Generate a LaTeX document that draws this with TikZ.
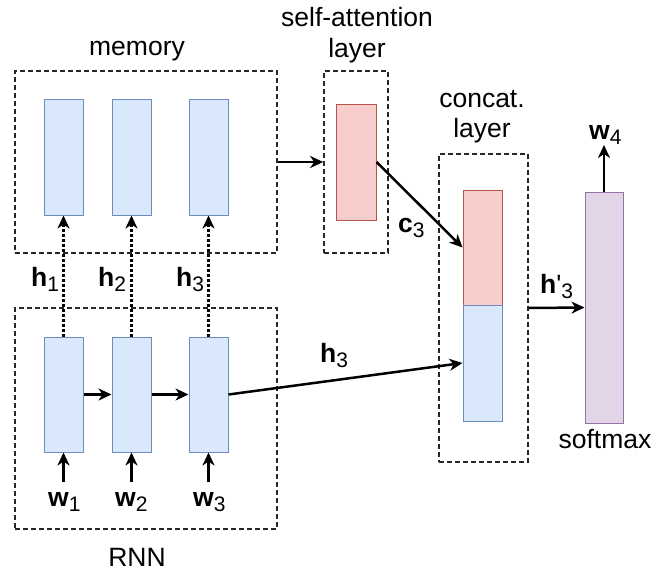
\documentclass[tikz,border=0pt]{standalone}
\usepackage{fontspec}
\setmainfont{Liberation Sans}
\usetikzlibrary{arrows.meta}
\newcommand{\lbl}[2]{\textbf{#1}\raisebox{-5pt}{\fontsize{21}{21}\selectfont #2}}
\tikzset{
  dbox/.style={draw=black!85, line width=1.7pt, dash pattern=on 5pt off 3pt, fill=none, inner sep=0pt},
  bcell/.style={line width=1pt, draw={rgb,255:red,108;green,142;blue,191}, fill={rgb,255:red,218;green,232;blue,252}, inner sep=0pt, minimum width=39pt},
  pcell/.style={line width=1pt, draw={rgb,255:red,184;green,84;blue,80}, fill={rgb,255:red,248;green,206;blue,204}, inner sep=0pt, minimum width=39pt},
  vcell/.style={line width=1pt, draw={rgb,255:red,150;green,115;blue,166}, fill={rgb,255:red,225;green,213;blue,231}, inner sep=0pt, minimum width=38pt},
  arr/.style={line width=2.5pt, -{Stealth[length=13pt,width=12pt,inset=4pt]}},
  darr/.style={line width=2.5pt, dash pattern=on 2.5pt off 2.5pt, -{Stealth[length=13pt,width=12pt,inset=4pt]}},
  txt/.style={font=\fontsize{26.5}{31}\selectfont, inner sep=0pt, anchor=base},
  lab/.style={font=\fontsize{26.5}{31}\selectfont, inner sep=0pt, anchor=base west}
}
\begin{document}
\begin{tikzpicture}[x=1pt,y=-1pt]
\useasboundingbox (0,0) rectangle (664,571);
% dashed boxes
\node[dbox, minimum width=262pt, minimum height=182pt] (membox) at (146,162) {};
\node[dbox, minimum width=262pt, minimum height=221pt] (rnnbox) at (146,418.5) {};
\node[dbox, minimum width=64pt, minimum height=182pt] (sabox) at (356,162) {};
\node[dbox, minimum width=89pt, minimum height=308pt] (catbox) at (483.5,308) {};
% memory cells
\node[bcell, minimum height=116pt] (m1) at (63.5,157) {};
\node[bcell, minimum height=116pt] (m2) at (131.5,157) {};
\node[bcell, minimum height=116pt] (m3) at (208.5,157) {};
% rnn cells
\node[bcell, minimum height=115pt] (r1) at (63.5,394.5) {};
\node[bcell, minimum height=115pt] (r2) at (131.5,394.5) {};
\node[bcell, minimum height=115pt] (r3) at (208.5,394.5) {};
% self-attention cell
\node[pcell, minimum width=40pt, minimum height=116pt] (sa) at (356,162) {};
% concat cells
\node[pcell, minimum height=115pt] (cp) at (482.5,247.5) {};
\node[bcell, minimum height=116pt] (cb) at (482.5,363) {};
% softmax
\node[vcell, minimum height=231pt] (sm) at (604,307.5) {};
% titles
\node[txt] (tmem) at (137,55) {memory};
\node[txt] (tsa1) at (357,26) {self-attention};
\node[txt] (tsa2) at (357,57) {layer};
\node[txt] (tcat1) at (482,107) {concat.};
\node[txt] (tcat2) at (482,137) {layer};
\node[txt] (tsm) at (605,448) {softmax};
\node[txt] (trnn) at (137,566) {RNN};
% labels
\node[lab] (h1) at (31,286) {\lbl{h}{1}};
\node[lab] (h2) at (98,286) {\lbl{h}{2}};
\node[lab] (h3) at (176,286) {\lbl{h}{3}};
\node[lab] (w1) at (48,506) {\lbl{w}{1}};
\node[lab] (w2) at (115,506) {\lbl{w}{2}};
\node[lab] (w3) at (193,506) {\lbl{w}{3}};
\node[lab] (hh3) at (320,362) {\lbl{h}{3}};
\node[lab] (c3) at (398,232) {\lbl{c}{3}};
\node[lab] (hp3) at (540,293) {\textbf{h}\textquotesingle\raisebox{-5pt}{\fontsize{21}{21}\selectfont 3}};
\node[lab] (w4) at (589,139) {\lbl{w}{4}};
% coordinates
\coordinate (w1t) at (63.5,482);
\coordinate (w2t) at (131.5,482);
\coordinate (w3t) at (208.5,482);
\coordinate (w4t) at (604,145);
% connectors
\draw[darr] (r1.north) -- (m1.south);
\draw[darr] (r2.north) -- (m2.south);
\draw[darr] (r3.north) -- (m3.south);
\draw[arr] (r1.east) -- (r2.west);
\draw[arr] (r2.east) -- (r3.west);
\draw[arr] (w1t) -- (r1.south);
\draw[arr] (w2t) -- (r2.south);
\draw[arr] (w3t) -- (r3.south);
\draw[arr] (membox.east) -- (sabox.west);
\draw[arr] (sa.east) -- (cp.west);
\draw[arr] (r3.east) -- (cb.west);
\draw[arr] (catbox.east) -- (sm.west);
\draw[arr] (sm.north) -- (w4t);
\end{tikzpicture}
\end{document}
